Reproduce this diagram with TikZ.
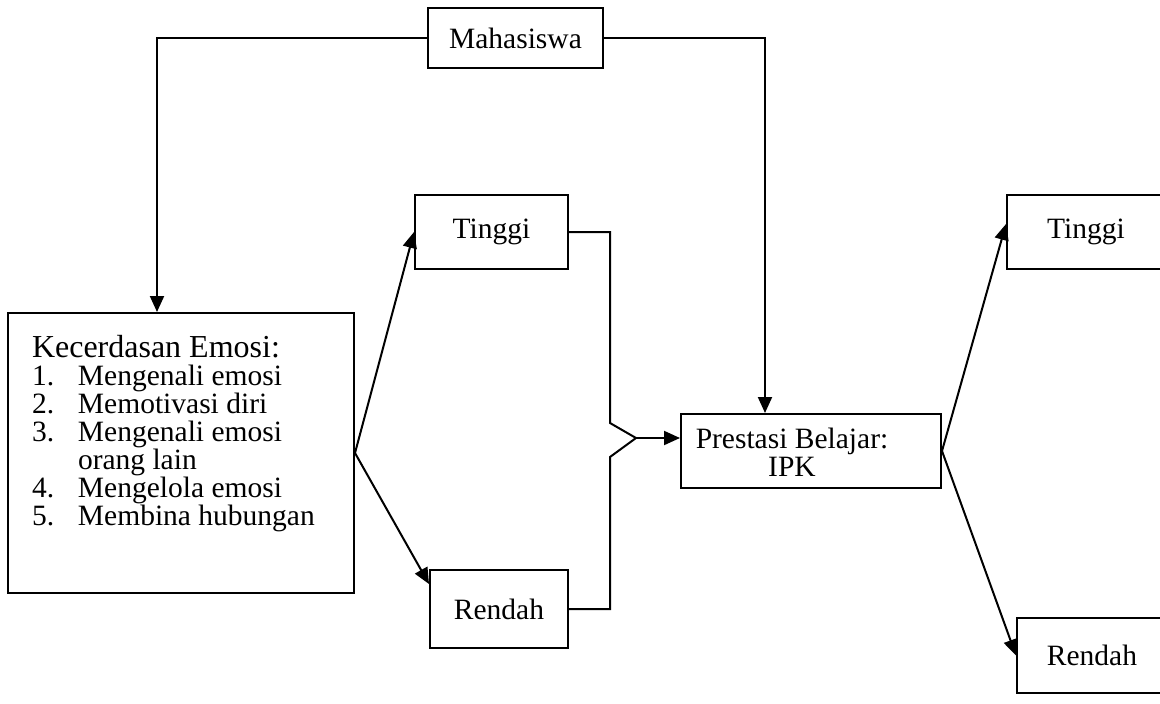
\documentclass[tikz,border=0pt]{standalone}
\usepackage{fontspec}
\setmainfont{Liberation Serif}
\usetikzlibrary{positioning}
\usetikzlibrary{arrows.meta}

\begin{document}
\begin{tikzpicture}[x=1pt, y=-1pt, line width=2pt,
		font=\fontsize{29.5}{28}\selectfont,
		box/.style={draw, rectangle, inner sep=0pt, line width=2pt},
		arr/.style={-{Triangle[length=16pt, width=14pt]}}]
	\useasboundingbox (0,0) rectangle (1160,704);
	% kotak
	\node[box, minimum width=175, minimum height=60] (mhs) at (515.5,38) {Mahasiswa};
	\node[box, minimum width=346, minimum height=280] (emosi) at (181,453) {};
	\node[anchor=north west, inner sep=0pt, align=left] (emositeks) at (31,334) {{\fontsize{32}{28}\selectfont Kecerdasan Emosi:}\\
		\makebox[46pt][l]{1.}Mengenali emosi\\
		\makebox[46pt][l]{2.}Memotivasi diri\\
		\makebox[46pt][l]{3.}Mengenali emosi\\
		\hspace*{46pt}orang lain\\
		\makebox[46pt][l]{4.}Mengelola emosi\\
		\makebox[46pt][l]{5.}Membina hubungan};
	\node[box, minimum width=153, minimum height=74] (tinggiA) at (491.5,232) {Tinggi};
	\node[box, minimum width=138, minimum height=78] (rendahA) at (499,609) {Rendah};
	\node[box, minimum width=260, minimum height=74] (ipk) at (811,451) {};
	\node[align=center, inner sep=0pt] (ipkteks) at (792,452) {Prestasi Belajar:\\IPK};
	\node[box, minimum width=158, minimum height=74] (tinggiB) at (1086,232) {Tinggi};
	\node[box, minimum width=150, minimum height=75] (rendahB) at (1092,655.5) {Rendah};
	% garis dari mahasiswa
	\coordinate (kiri) at (157,38);
	\coordinate (kanan) at (765,38);
	\draw[arr] (mhs.west) -- (kiri) -- (kiri |- emosi.north);
	\draw[arr] (mhs.east) -- (kanan) -- (kanan |- ipk.north);
	% cabang kecerdasan emosi
	\draw[arr] (emosi.east) -- (tinggiA.west);
	\draw[arr] (emosi.east) -- ([yshift=25pt]rendahA.west);
	% gabungan ke prestasi
	\coordinate (atas) at (610,423);
	\coordinate (gabung) at (636,438);
	\coordinate (bawah) at (610,457);
	\draw (tinggiA.east) -| (atas) -- (gabung) -- (bawah) |- (rendahA.east);
	\draw[arr] (gabung) -- (gabung -| ipk.west);
	% cabang prestasi
	\draw[arr] (ipk.east) -- ([yshift=8pt]tinggiB.west);
	\draw[arr] (ipk.east) -- (rendahB.west);
\end{tikzpicture}
\end{document}
